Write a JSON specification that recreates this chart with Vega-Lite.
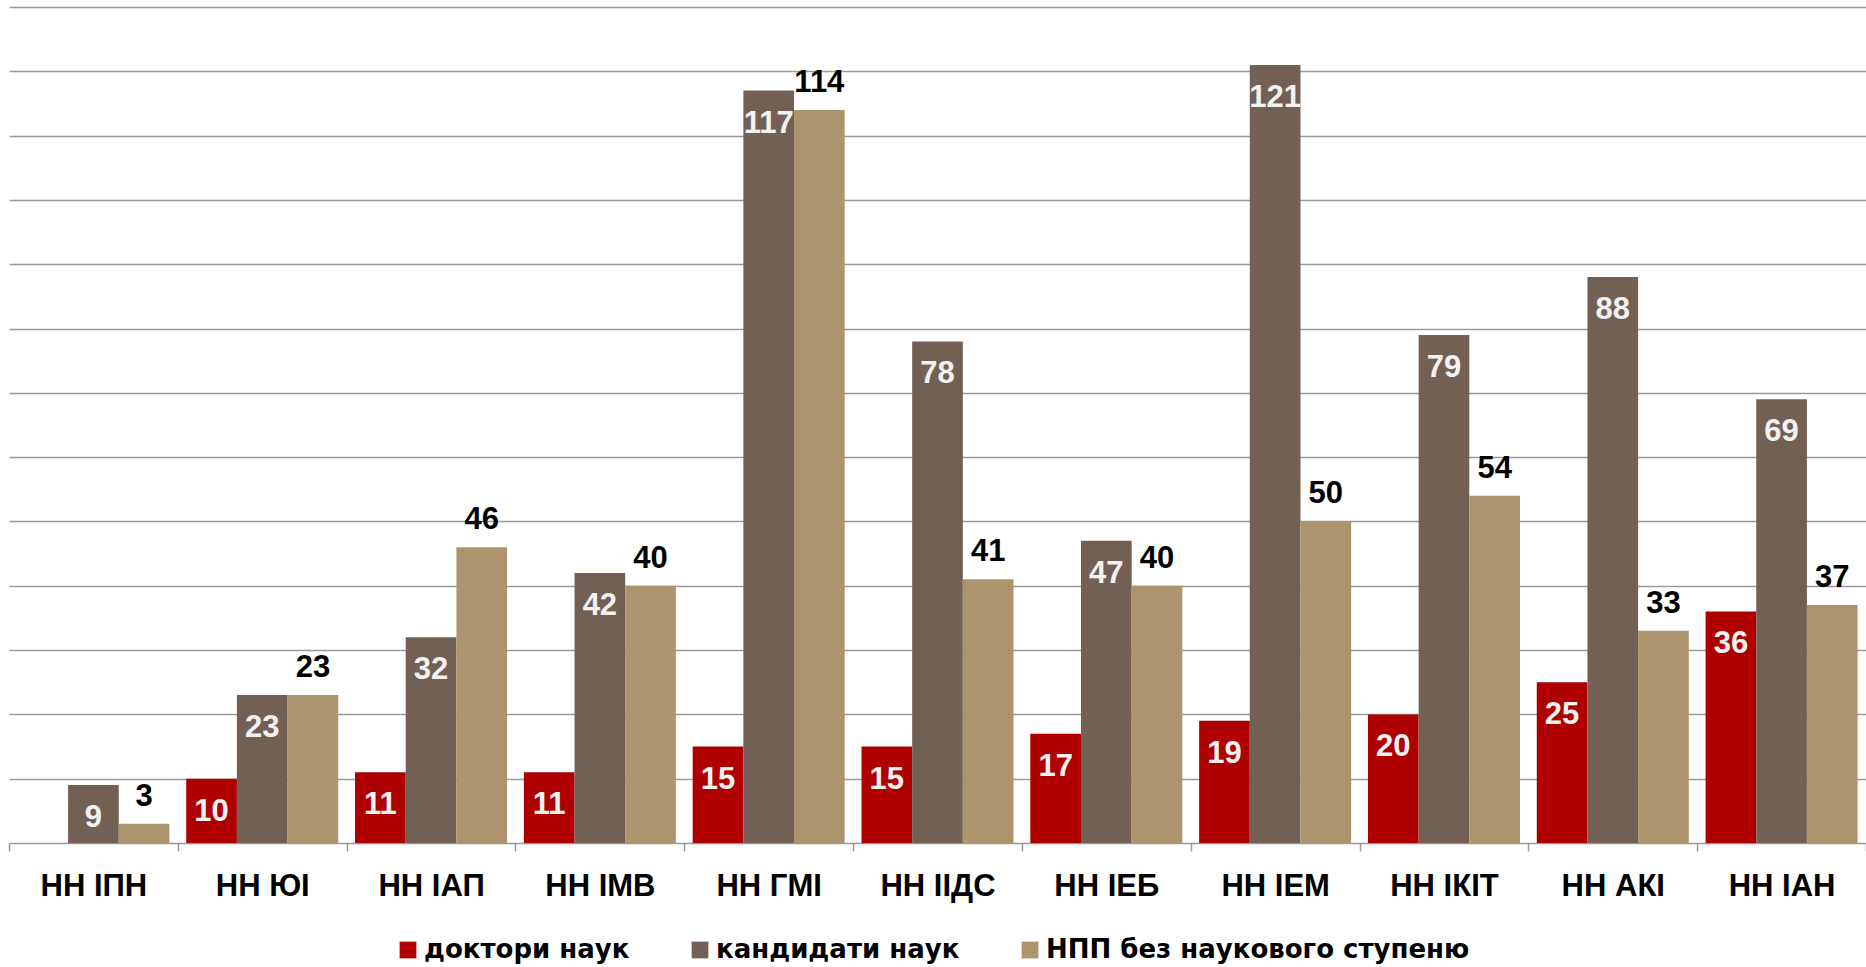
{
  "$schema": "https://vega.github.io/schema/vega-lite/v6.json",
  "width": 1857,
  "height": 836,
  "autosize": {"type": "none"},
  "padding": {"left": 9, "top": 7, "right": 0, "bottom": 124},
  "background": "white",
  "config": {"view": {"stroke": null}, "font": "Liberation Sans"},
  "data": {"values": [
    {"g": "НН ІПН", "s": "кандидати наук", "v": 9},
    {"g": "НН ІПН", "s": "НПП без наукового ступеню", "v": 3},
    {"g": "НН ЮІ", "s": "доктори наук", "v": 10},
    {"g": "НН ЮІ", "s": "кандидати наук", "v": 23},
    {"g": "НН ЮІ", "s": "НПП без наукового ступеню", "v": 23},
    {"g": "НН ІАП", "s": "доктори наук", "v": 11},
    {"g": "НН ІАП", "s": "кандидати наук", "v": 32},
    {"g": "НН ІАП", "s": "НПП без наукового ступеню", "v": 46},
    {"g": "НН ІМВ", "s": "доктори наук", "v": 11},
    {"g": "НН ІМВ", "s": "кандидати наук", "v": 42},
    {"g": "НН ІМВ", "s": "НПП без наукового ступеню", "v": 40},
    {"g": "НН ГМІ", "s": "доктори наук", "v": 15},
    {"g": "НН ГМІ", "s": "кандидати наук", "v": 117},
    {"g": "НН ГМІ", "s": "НПП без наукового ступеню", "v": 114},
    {"g": "НН ІІДС", "s": "доктори наук", "v": 15},
    {"g": "НН ІІДС", "s": "кандидати наук", "v": 78},
    {"g": "НН ІІДС", "s": "НПП без наукового ступеню", "v": 41},
    {"g": "НН ІЕБ", "s": "доктори наук", "v": 17},
    {"g": "НН ІЕБ", "s": "кандидати наук", "v": 47},
    {"g": "НН ІЕБ", "s": "НПП без наукового ступеню", "v": 40},
    {"g": "НН ІЕМ", "s": "доктори наук", "v": 19},
    {"g": "НН ІЕМ", "s": "кандидати наук", "v": 121},
    {"g": "НН ІЕМ", "s": "НПП без наукового ступеню", "v": 50},
    {"g": "НН ІКІТ", "s": "доктори наук", "v": 20},
    {"g": "НН ІКІТ", "s": "кандидати наук", "v": 79},
    {"g": "НН ІКІТ", "s": "НПП без наукового ступеню", "v": 54},
    {"g": "НН АКІ", "s": "доктори наук", "v": 25},
    {"g": "НН АКІ", "s": "кандидати наук", "v": 88},
    {"g": "НН АКІ", "s": "НПП без наукового ступеню", "v": 33},
    {"g": "НН ІАН", "s": "доктори наук", "v": 36},
    {"g": "НН ІАН", "s": "кандидати наук", "v": 69},
    {"g": "НН ІАН", "s": "НПП без наукового ступеню", "v": 37}
  ]},
  "encoding": {
    "x": {
      "field": "g", "type": "nominal", "sort": null,
      "scale": {"paddingInner": 0, "paddingOuter": 0},
      "axis": {
        "title": null, "labelAngle": 0, "labelFontSize": 31, "labelFontWeight": "bold",
        "labelColor": "#000000", "labelFont": "Liberation Sans", "tickBand": "extent",
        "tickSize": 8, "tickColor": "#999999", "tickWidth": 1.5, "domainColor": "#999999",
        "domainWidth": 1.5, "labelPadding": 20, "grid": false,
        "labelFlush": false, "labelBound": false, "labelOverlap": false, "labelAlign": "center"
      }
    },
    "xOffset": {
      "field": "s", "type": "nominal",
      "sort": ["доктори наук", "кандидати наук", "НПП без наукового ступеню"],
      "scale": {"paddingOuter": 0.166, "paddingInner": 0}
    },
    "y": {
      "field": "v", "type": "quantitative",
      "scale": {"domain": [0, 130], "nice": false},
      "axis": {
        "title": null, "labels": false, "ticks": false, "domain": false,
        "values": [10, 20, 30, 40, 50, 60, 70, 80, 90, 100, 110, 120, 130],
        "gridColor": "#9a9a9a", "gridWidth": 1.5
      }
    }
  },
  "layer": [
    {
      "mark": {"type": "bar"},
      "encoding": {
        "color": {
          "field": "s", "type": "nominal",
          "scale": {
            "domain": ["доктори наук", "кандидати наук", "НПП без наукового ступеню"],
            "range": ["#AE0000", "#736055", "#AC946E"]
          },
          "legend": {
            "title": null, "orient": "none", "direction": "horizontal",
            "legendX": 386, "legendY": 930, "padding": 0,
            "labelFont": "DejaVu Sans", "labelFontSize": 26, "labelFontWeight": "bold",
            "labelColor": "#000000", "labelLimit": 0, "symbolType": "square", "symbolSize": 280,
            "symbolStrokeWidth": 0, "symbolOpacity": 1, "labelOffset": 3, "columnPadding": 57
          }
        }
      }
    },
    {
      "transform": [{"filter": "datum.s !== 'НПП без наукового ступеню'"}],
      "mark": {"type": "text", "font": "Liberation Sans", "fontSize": 31, "fontWeight": "bold",
               "color": "#F2F2F2", "baseline": "alphabetic", "dy": 42},
      "encoding": {"text": {"field": "v", "type": "quantitative"}}
    },
    {
      "transform": [{"filter": "datum.s === 'НПП без наукового ступеню'"}],
      "mark": {"type": "text", "font": "Liberation Sans", "fontSize": 31, "fontWeight": "bold",
               "color": "#000000", "baseline": "alphabetic", "dy": -18},
      "encoding": {"text": {"field": "v", "type": "quantitative"}}
    }
  ]
}
